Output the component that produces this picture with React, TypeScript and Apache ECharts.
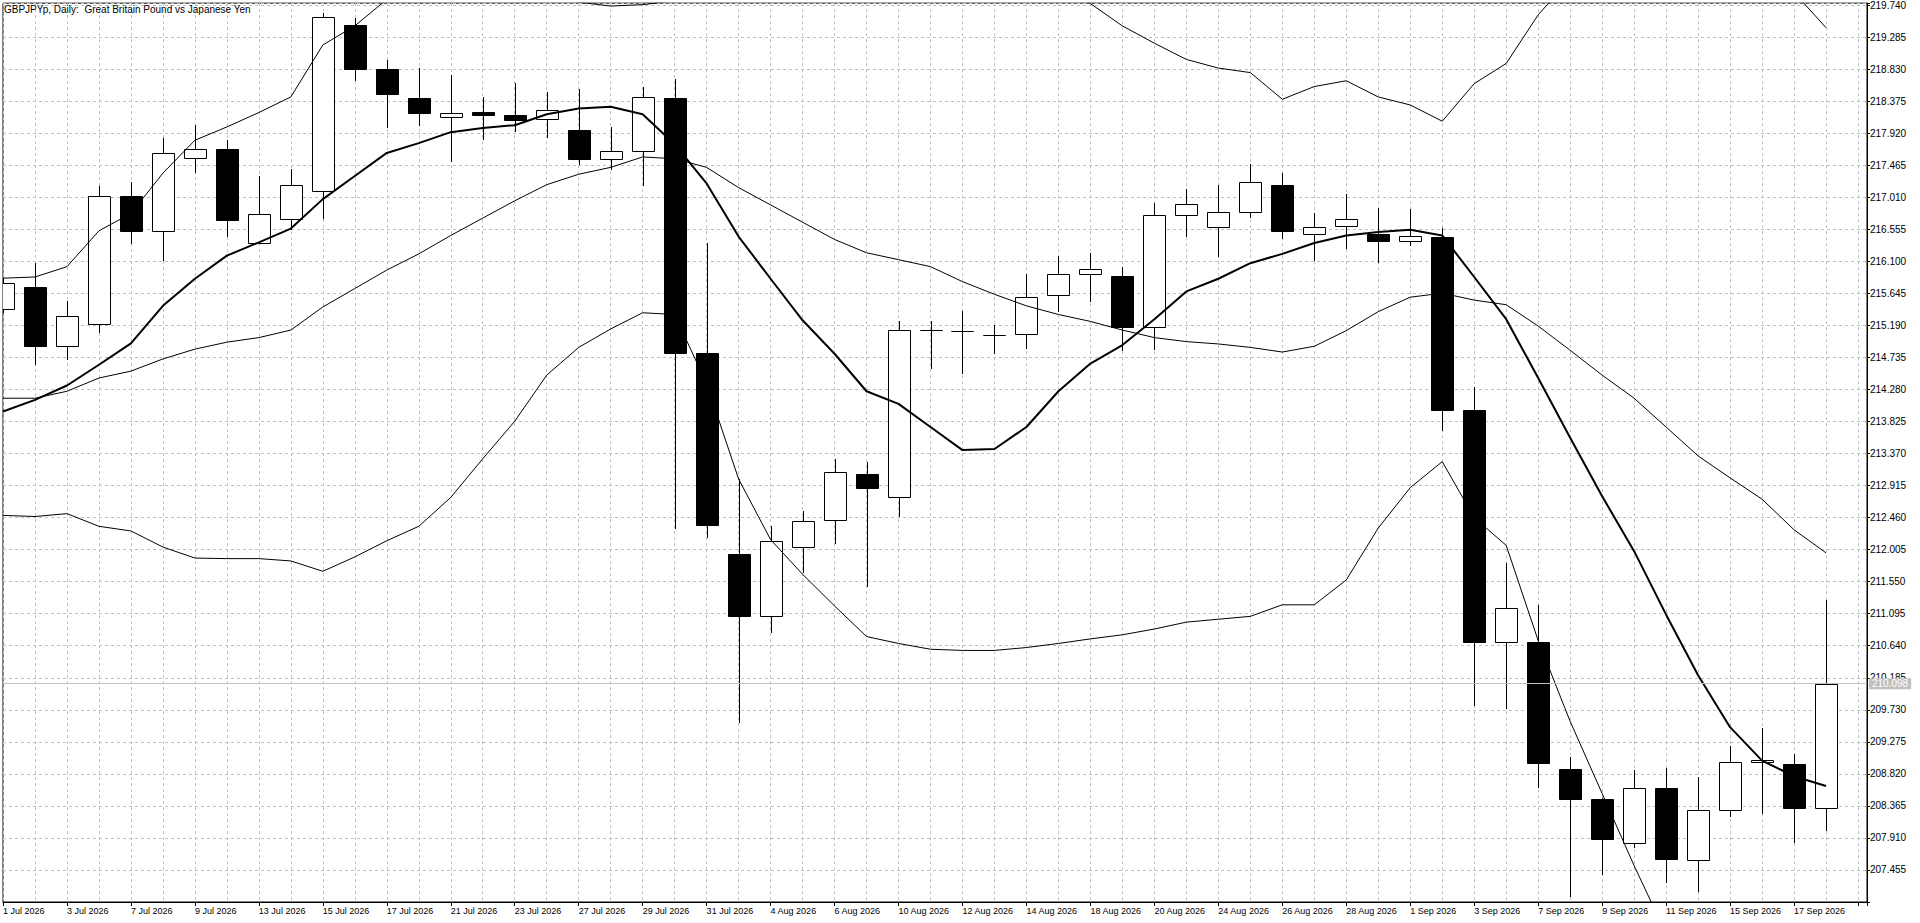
import React, { useEffect, useRef } from 'react';
import * as echarts from 'echarts';

const TITLE = 'GBPJPYp, Daily:  Great Britain Pound vs Japanese Yen';
const FONT = 'Tahoma, "Liberation Sans", Arial, sans-serif';

const dates = [
  '1 Jul 2026', '2 Jul 2026', '3 Jul 2026', '6 Jul 2026', '7 Jul 2026', '8 Jul 2026', '9 Jul 2026', '10 Jul 2026',
  '13 Jul 2026', '14 Jul 2026', '15 Jul 2026', '16 Jul 2026', '17 Jul 2026', '20 Jul 2026', '21 Jul 2026',
  '22 Jul 2026', '23 Jul 2026', '24 Jul 2026', '27 Jul 2026', '28 Jul 2026', '29 Jul 2026', '30 Jul 2026',
  '31 Jul 2026', '3 Aug 2026', '4 Aug 2026', '5 Aug 2026', '6 Aug 2026', '7 Aug 2026', '10 Aug 2026',
  '11 Aug 2026', '12 Aug 2026', '13 Aug 2026', '14 Aug 2026', '17 Aug 2026', '18 Aug 2026', '19 Aug 2026',
  '20 Aug 2026', '21 Aug 2026', '24 Aug 2026', '25 Aug 2026', '26 Aug 2026', '27 Aug 2026', '28 Aug 2026',
  '31 Aug 2026', '1 Sep 2026', '2 Sep 2026', '3 Sep 2026', '4 Sep 2026', '7 Sep 2026', '8 Sep 2026',
  '9 Sep 2026', '10 Sep 2026', '11 Sep 2026', '14 Sep 2026', '15 Sep 2026', '16 Sep 2026', '17 Sep 2026',
  '18 Sep 2026',
];

const opens = [
  215.426, 215.741, 214.893, 215.205, 217.024, 216.524, 217.574, 217.697, 216.360, 216.696,
  217.098, 219.459, 218.828, 218.418, 218.156, 218.221, 218.180, 218.115, 217.967, 217.549,
  217.664, 218.418, 214.795, 211.943, 211.057, 212.041, 212.426, 213.074, 212.754, 215.122,
  215.110, 215.060, 215.073, 215.623, 215.918, 215.893, 215.172, 216.754, 216.582, 216.803,
  217.188, 216.483, 216.598, 216.483, 216.393, 216.451, 213.983, 210.696, 210.696, 208.893,
  208.459, 207.844, 208.614, 207.598, 208.303, 208.990, 208.967, 208.336,
];
const highs = [
  215.860, 216.082, 215.532, 217.164, 217.229, 217.844, 218.033, 217.819, 217.311, 217.410,
  219.631, 219.549, 218.959, 218.844, 218.746, 218.434, 218.639, 218.500, 218.541, 218.008,
  218.582, 218.688, 216.360, 213.008, 212.336, 212.549, 213.295, 213.254, 215.246, 215.246,
  215.401, 215.197, 215.918, 216.180, 216.221, 216.024, 216.926, 217.123, 217.188, 217.475,
  217.352, 216.779, 217.049, 216.860, 216.844, 216.574, 214.319, 211.819, 211.221, 209.057,
  208.476, 208.869, 208.910, 208.771, 209.221, 209.467, 209.106, 211.287,
];
const lows = [
  215.360, 214.623, 214.705, 215.082, 216.352, 216.106, 217.352, 216.451, 216.344, 216.549,
  216.696, 218.664, 217.992, 218.024, 217.516, 217.819, 217.942, 217.844, 217.467, 217.393,
  217.164, 212.303, 212.172, 209.549, 210.819, 211.672, 212.090, 211.467, 212.475, 214.565,
  214.500, 214.778, 214.852, 215.377, 215.516, 214.828, 214.836, 216.451, 216.164, 216.713,
  216.410, 216.098, 216.270, 216.082, 216.311, 213.688, 209.778, 209.746, 208.623, 207.065,
  207.377, 207.762, 207.270, 207.147, 208.205, 208.254, 207.844, 208.008,
];
const closes = [
  215.795, 214.893, 215.328, 217.024, 216.524, 217.639, 217.697, 216.680, 216.770, 217.180,
  219.565, 218.828, 218.483, 218.213, 218.213, 218.172, 218.106, 218.246, 217.549, 217.664,
  218.434, 214.795, 212.352, 211.057, 212.123, 212.418, 213.106, 212.885, 215.131, 215.131,
  215.115, 215.052, 215.598, 215.918, 215.992, 215.172, 216.754, 216.918, 216.803, 217.221,
  216.524, 216.590, 216.697, 216.385, 216.459, 213.983, 210.696, 211.180, 208.975, 208.459,
  207.901, 208.614, 207.615, 208.303, 208.984, 209.020, 208.336, 210.098,
];

const maLine = [
  213.967, 214.131, 214.336, 214.631, 214.934, 215.467, 215.852, 216.180, 216.369, 216.565,
  216.983, 217.311, 217.639, 217.778, 217.934, 217.992, 218.033, 218.188, 218.270, 218.295,
  218.188, 217.762, 217.205, 216.451, 215.852, 215.262, 214.787, 214.254, 214.074, 213.746,
  213.418, 213.434, 213.746, 214.254, 214.647, 214.910, 215.278, 215.672, 215.852, 216.073,
  216.205, 216.360, 216.467, 216.516, 216.549, 216.467, 215.877, 215.278, 214.442, 213.594,
  212.762, 211.983, 211.081, 210.221, 209.483, 209.008, 208.786, 208.647,
];
const bbMiddle = [
  214.155, 214.155, 214.254, 214.442, 214.540, 214.713, 214.852, 214.951, 215.016, 215.123,
  215.451, 215.713, 215.975, 216.205, 216.467, 216.713, 216.959, 217.188, 217.336, 217.434,
  217.582, 217.557, 217.434, 217.146, 216.901, 216.655, 216.410, 216.221, 216.123, 216.024,
  215.811, 215.631, 215.467, 215.344, 215.246, 215.123, 215.016, 214.959, 214.926, 214.877,
  214.811, 214.893, 215.115, 215.385, 215.590, 215.647, 215.549, 215.483, 215.180, 214.836,
  214.483, 214.155, 213.746, 213.336, 213.024, 212.721, 212.287, 211.959,
];
const bbUpper = [
  215.860, 215.877, 216.024, 216.533, 216.779, 217.352, 217.819, 218.008, 218.213, 218.434,
  219.172, 219.443, 219.820, 220.070, 220.190, 220.130, 220.090, 219.890, 219.780, 219.725,
  219.745, 219.800, 220.510, 221.280, 221.650, 221.660, 221.620, 221.670, 221.570, 221.460,
  221.050, 220.690, 220.320, 220.020, 219.760, 219.443, 219.197, 218.967, 218.844, 218.780,
  218.401, 218.582, 218.664, 218.434, 218.320, 218.090, 218.623, 218.910, 219.600, 220.110,
  220.430, 220.790, 220.940, 220.770, 220.550, 220.240, 219.920, 219.418,
];
const bbLower = [
  212.491, 212.475, 212.516, 212.336, 212.270, 212.041, 211.885, 211.877, 211.877, 211.844,
  211.697, 211.901, 212.131, 212.336, 212.746, 213.295, 213.828, 214.483, 214.877, 215.139,
  215.369, 215.344, 214.360, 213.008, 212.147, 211.655, 211.205, 210.770, 210.672, 210.590,
  210.573, 210.573, 210.614, 210.672, 210.737, 210.795, 210.877, 210.975, 211.016, 211.057,
  211.221, 211.221, 211.574, 212.311, 212.885, 213.254, 212.459, 212.065, 210.713, 209.565,
  208.541, 207.516, 206.550, 205.900, 205.500, 205.200, 204.650, 204.500,
];

const lastPrice = 210.098;
const yMin = 207.0;
const yStep = 0.455;
const yMax = 219.766;
const xMax = 58.28125;

const GRID_COLOR = '#c0c0c0';

export default function App() {
  const ref = useRef<HTMLDivElement>(null);

  useEffect(() => {
    if (!ref.current) return;
    const chart = echarts.init(ref.current, undefined, { renderer: 'svg' });

    const candleData = dates.map((_, i) => [i, opens[i], closes[i], lows[i], highs[i]]);
    const toXY = (arr: number[]) => arr.map((v, i) => [i, v]);

    const option: any = {
      animation: false,
      backgroundColor: '#ffffff',
      textStyle: { fontFamily: FONT },
      title: {
        text: TITLE,
        left: 4,
        top: 4,
        padding: 0,
        textStyle: { fontSize: 10, fontWeight: 'normal', color: '#000', fontFamily: FONT },
      },
      grid: {
        left: 2,
        top: 3,
        width: 1865,
        height: 899,
        show: true,
        borderColor: '#000',
        borderWidth: 1,
        backgroundColor: '#fff',
        containLabel: false,
      },
      xAxis: [
        {
          type: 'value',
          position: 'top',
          min: 0,
          max: xMax,
          interval: 1,
          axisLine: { show: false },
          axisTick: { show: false },
          axisLabel: { show: false },
          splitLine: { show: true, lineStyle: { color: GRID_COLOR, width: 1, type: [3, 3] } },
        },
        {
          type: 'value',
          position: 'bottom',
          min: 0,
          max: xMax,
          interval: 2,
          axisLine: { show: true, onZero: false, lineStyle: { color: '#000', width: 1 } },
          axisTick: { show: true, length: 4, lineStyle: { color: '#000', width: 1 } },
          axisLabel: {
            show: true,
            align: 'left',
            margin: 4,
            fontSize: 9,
            color: '#000',
            fontFamily: FONT,
            formatter: (v: number) => {
              const k = Math.round(v);
              if (Math.abs(v - k) > 1e-6 || k % 2 !== 0 || !dates[k]) return '';
              return dates[k];
            },
          },
          splitLine: { show: false },
        },
      ],
      yAxis: {
        type: 'value',
        position: 'right',
        min: yMin,
        max: yMax,
        interval: yStep,
        axisLine: { show: true, onZero: false, lineStyle: { color: '#000', width: 1 } },
        axisTick: { show: true, length: 3, lineStyle: { color: '#000', width: 1 } },
        axisLabel: {
          show: true,
          margin: 3,
          fontSize: 10,
          color: '#000',
          fontFamily: FONT,
          formatter: (v: number) => {
            const k = (v - yMin) / yStep;
            if (Math.abs(k - Math.round(k)) > 0.01 || k < 0.5) return '';
            return v.toFixed(3);
          },
        },
        splitLine: { show: true, lineStyle: { color: GRID_COLOR, width: 1, type: [3, 3] } },
      },
      series: [
        {
          type: 'custom',
          name: 'GBPJPYp',
          xAxisIndex: 0,
          yAxisIndex: 0,
          clip: true,
          data: candleData,
          encode: { x: 0, y: [1, 2, 3, 4] },
          renderItem: (params: any, api: any) => {
            const i = api.value(0);
            const o = api.value(1);
            const c = api.value(2);
            const l = api.value(3);
            const h = api.value(4);
            const pO = api.coord([i, o]);
            const pC = api.coord([i, c]);
            const pL = api.coord([i, l]);
            const pH = api.coord([i, h]);
            const x = Math.round(pO[0]) + 0.5;
            const top = Math.round(Math.min(pO[1], pC[1])) + 0.5;
            const bot = Math.round(Math.max(pO[1], pC[1])) + 0.5;
            const bull = c >= o;
            return {
              type: 'group',
              children: [
                {
                  type: 'line',
                  shape: { x1: x, y1: Math.round(pH[1]), x2: x, y2: Math.round(pL[1]) },
                  style: { stroke: '#000', lineWidth: 1 },
                },
                {
                  type: 'rect',
                  shape: { x: x - 11, y: top, width: 22, height: Math.max(0, bot - top) },
                  style: { fill: bull ? '#fff' : '#000', stroke: '#000', lineWidth: 1 },
                },
              ],
            };
          },
          markLine: {
            silent: true,
            symbol: 'none',
            data: [{ yAxis: lastPrice }],
            lineStyle: { color: GRID_COLOR, type: 'solid', width: 1 },
            label: {
              show: true,
              position: 'end',
              formatter: lastPrice.toFixed(3),
              backgroundColor: GRID_COLOR,
              color: '#fff',
              fontSize: 10,
              fontFamily: FONT,
              padding: [1, 3, 0, 3],
              distance: 2,
            },
          },
        },
        {
          type: 'line',
          name: 'BB Upper',
          data: toXY(bbUpper),
          showSymbol: false,
          symbol: 'none',
          clip: true,
          lineStyle: { color: '#000', width: 1 },
        },
        {
          type: 'line',
          name: 'BB Middle',
          data: toXY(bbMiddle),
          showSymbol: false,
          symbol: 'none',
          clip: true,
          lineStyle: { color: '#000', width: 1 },
        },
        {
          type: 'line',
          name: 'BB Lower',
          data: toXY(bbLower),
          showSymbol: false,
          symbol: 'none',
          clip: true,
          lineStyle: { color: '#000', width: 1 },
        },
        {
          type: 'line',
          name: 'MA',
          data: toXY(maLine),
          showSymbol: false,
          symbol: 'none',
          clip: true,
          lineStyle: { color: '#000', width: 2 },
        },
      ],
    };

    chart.setOption(option);
    return () => chart.dispose();
  }, []);

  return (
    <div
      ref={ref}
      style={{ position: 'fixed', left: 0, top: 0, width: 1920, height: 923, background: '#fff' }}
    />
  );
}
